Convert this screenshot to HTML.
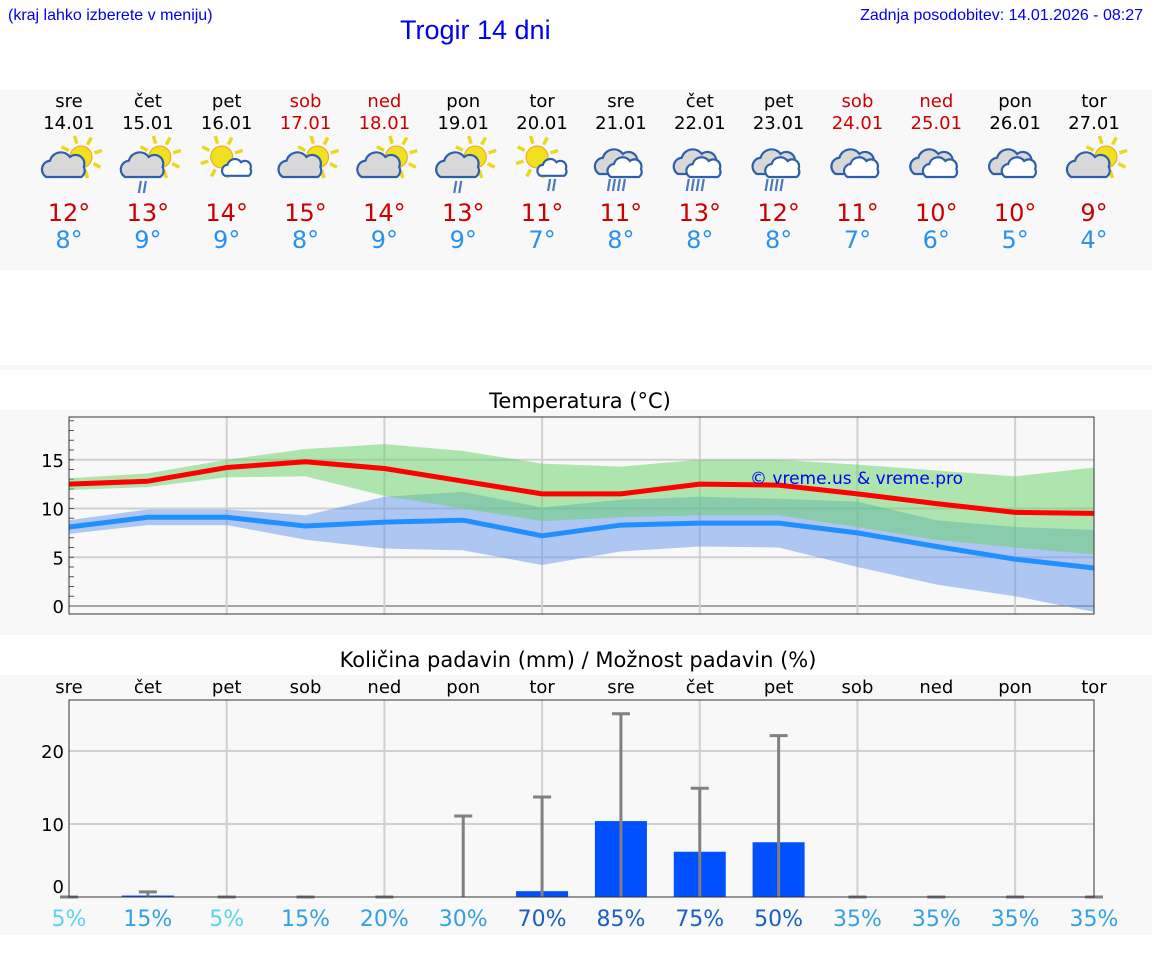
<!DOCTYPE html>
<html><head><meta charset="utf-8"><style>
body{margin:0;width:1152px;height:975px;background:#fff;font-family:"Liberation Sans","DejaVu Sans",sans-serif;position:relative;overflow:hidden}
.abs{position:absolute}
svg text{font-family:"DejaVu Sans","Liberation Sans",sans-serif}
</style></head><body>
<svg id="svg" class="abs" style="left:0;top:0" width="1152" height="975"></svg>
<div class="abs" style="left:8px;top:7px;font-size:16px;color:#0000ee">(kraj lahko izberete v meniju)</div>
<div class="abs" style="left:400px;top:15px;font-size:27px;color:#0000ee">Trogir 14 dni</div>
<div class="abs" style="right:9px;top:7px;font-size:16px;color:#0000ee">Zadnja posodobitev: 14.01.2026 - 08:27</div>
<script>
const days=["sre","čet","pet","sob","ned","pon","tor","sre","čet","pet","sob","ned","pon","tor"];
const dates=["14.01","15.01","16.01","17.01","18.01","19.01","20.01","21.01","22.01","23.01","24.01","25.01","26.01","27.01"];
const weekend=[0,0,0,1,1,0,0,0,0,0,1,1,0,0];
const icons=[0,1,2,0,0,1,3,4,4,4,5,5,5,0];
const tMaxLabel=[12,13,14,15,14,13,11,11,13,12,11,10,10,9];
const tMinLabel=[8,9,9,8,9,9,7,8,8,8,7,6,5,4];
const maxLine=[12.5,12.8,14.2,14.8,14.1,12.8,11.5,11.5,12.5,12.4,11.5,10.5,9.6,9.5];
const maxHi=[13.1,13.6,15.0,16.1,16.6,15.9,14.6,14.3,15.0,15.0,14.5,13.9,13.3,14.2];
const maxLo=[11.9,12.2,13.2,13.3,11.3,10.0,8.7,9.1,9.3,9.3,8.1,6.8,6.0,5.3];
const minLine=[8.1,9.1,9.1,8.2,8.6,8.8,7.2,8.3,8.5,8.5,7.5,6.1,4.8,3.9];
const minHi=[8.8,9.9,9.9,9.3,11.2,11.7,10.1,10.9,11.2,11.0,10.7,8.8,8.1,7.8];
const minLo=[7.4,8.3,8.3,6.8,5.9,5.7,4.2,5.6,6.1,6.0,4.0,2.2,1.0,-0.6];
const tempTicks=[0,5,10,15];
const precip=[0,0.2,0,0,0,0,0.8,10.4,6.2,7.5,0,0,0,0];
const precipMax=[0,0.7,0,0,0,11.1,13.7,25.1,14.9,22.1,0,0,0,0];
const chance=[5,15,5,15,20,30,70,85,75,50,35,35,35,35];
const precipTicks=[0,10,20];

const S=document.getElementById('svg');const NS='http://www.w3.org/2000/svg';
function el(t,a,p){const e=document.createElementNS(NS,t);for(const k in a)e.setAttribute(k,a[k]);(p||S).appendChild(e);return e;}
function tx(x,y,s,a,p){const e=el('text',Object.assign({x:x,y:y},a),p);e.textContent=s;return e;}
const X0=69,X1=1094,DX=(X1-X0)/13;
const dx=i=>X0+i*DX;
const ty=v=>606-v*9.75;
const py=v=>897-v*7.3;

let r;
r=el('rect',{x:0,y:90,width:1152,height:180,fill:'#f8f8f8'});
el('rect',{x:0,y:365,width:1152,height:5,fill:'#f8f8f8'});
r=el('rect',{x:0,y:410,width:1152,height:225,fill:'#f8f8f8'});
r=el('rect',{x:0,y:675,width:1152,height:260,fill:'#f8f8f8'});

function icon(g,cx,type){
  const sun=(sx,sy,rr)=>{for(let k=0;k<8;k++){const a=k*Math.PI/4-0.3;el('line',{x1:sx+Math.cos(a)*(rr+3),y1:sy+Math.sin(a)*(rr+3),x2:sx+Math.cos(a)*(rr+11),y2:sy+Math.sin(a)*(rr+11),stroke:'#e8d820','stroke-width':3.5},g);}el('circle',{cx:sx,cy:sy,r:rr,fill:'#f0e020',stroke:'#f0a020','stroke-width':1},g);};
  const cloud=(x,y,s,fill)=>{const p=`M${x-15},${y+8} a7 7 0 0 1 3,-13 a9 9 0 0 1 16,-3 a7 7 0 0 1 11,8 a6 6 0 0 1 -2,8 z`;el('path',{d:p,fill:fill,stroke:'#2e5fa8','stroke-width':2.2/s,transform:`translate(${x},${y}) scale(${s}) translate(${-x},${-y})`},g);};
  const rain=(x,y,n)=>{for(let k=0;k<n;k++)el('line',{x1:x+k*5,y1:y,x2:x-2+k*5,y2:y+12,stroke:'#4a78b8','stroke-width':2.2},g);};
  if(type===0||type===1){sun(cx+12,157,11);cloud(cx-4,167,1.25,'#d8d8d8');if(type===1)rain(cx-7,181,2);}
  if(type===2||type===3){sun(cx-5,157,11);cloud(cx+11,169,0.85,'#fff');if(type===3)rain(cx+8,179,2);}
  if(type===4||type===5){cloud(cx-3,164,1.25,'#d8d8d8');cloud(cx+5,169,1.0,'#fff');if(type===4)rain(cx-11,179,4);}
}
for(let i=0;i<14;i++){
  const c=weekend[i]?'#cc0000':'#000';
  const g=el('g',{});
  tx(dx(i),107,days[i],{'text-anchor':'middle','font-size':18,fill:c},g);
  tx(dx(i),129,dates[i],{'text-anchor':'middle','font-size':18,fill:c},g);
  icon(g,dx(i),icons[i]);
  tx(dx(i),221,tMaxLabel[i]+'°',{'text-anchor':'middle','font-size':24,fill:'#cc0000'},g);
  tx(dx(i),248,tMinLabel[i]+'°',{'text-anchor':'middle','font-size':24,fill:'#2a90f0'},g);
}

tx(580,408,'Temperatura (°C)',{'text-anchor':'middle','font-size':21,fill:'#000'});
const TY0=417,TY1=614;
el('rect',{x:X0,y:TY0,width:X1-X0,height:TY1-TY0,fill:'#f8f8f8'});
for(const v of tempTicks){el('line',{x1:X0,x2:X1,y1:ty(v),y2:ty(v),stroke:v===0?'#555':'#d0d0d0','stroke-width':v===0?1:2});
  tx(64,ty(v)+7,String(v),{'text-anchor':'end','font-size':18,fill:'#000'});}
for(let v=0;v<=19;v++)el('line',{x1:X0,x2:X0+5,y1:ty(v),y2:ty(v),stroke:'#555'});
for(let i=2;i<14;i+=2)el('line',{x1:dx(i),x2:dx(i),y1:TY0,y2:TY1,stroke:'#d0d0d0','stroke-width':2});
function band(hi,lo,fill,name){let d='M';hi.forEach((v,i)=>d+=dx(i)+','+ty(v)+' L');for(let i=13;i>=0;i--)d+=dx(i)+','+ty(lo[i])+(i?' L':' Z');const p=el('path',{d:d,fill:fill});}
band(minHi,minLo,'rgba(100,150,235,0.5)','min-temp-range');
band(maxHi,maxLo,'rgba(100,210,100,0.5)','max-temp-range');
function line(vals,col,name){const p=el('polyline',{points:vals.map((v,i)=>dx(i)+','+ty(v)).join(' '),fill:'none',stroke:col,'stroke-width':5,'stroke-linejoin':'round'});}
line(maxLine,'#ff0000','max-temp-line');line(minLine,'#2090ff','min-temp-line');
el('rect',{x:X0,y:TY0,width:X1-X0,height:TY1-TY0,fill:'none',stroke:'#333'});
tx(750,484,'© vreme.us & vreme.pro',{'font-size':17,fill:'#0000ee'});

tx(578,667,'Količina padavin (mm) / Možnost padavin (%)',{'text-anchor':'middle','font-size':21,fill:'#000'});
const PY0=700,PY1=897;
el('rect',{x:X0,y:PY0,width:X1-X0,height:PY1-PY0,fill:'#f8f8f8'});
for(const v of precipTicks){if(v>0)el('line',{x1:X0,x2:X1,y1:py(v),y2:py(v),stroke:'#d0d0d0','stroke-width':2});
  tx(64,py(v)+(v?7:-4),String(v),{'text-anchor':'end','font-size':18,fill:'#000'});}
for(let i=2;i<14;i+=2)el('line',{x1:dx(i),x2:dx(i),y1:PY0,y2:PY1,stroke:'#d0d0d0','stroke-width':2});
for(let i=0;i<14;i++){
  tx(dx(i),693,days[i],{'text-anchor':'middle','font-size':18,fill:'#000'});
  if(precip[i]>0){const b=el('rect',{x:dx(i)-26,y:py(precip[i]),width:52,height:PY1-py(precip[i]),fill:'#0050ff'});}
  const g=el('g',{});
  el('line',{x1:dx(i),x2:dx(i),y1:PY1,y2:py(precipMax[i]),stroke:'#808080','stroke-width':3},g);
  el('line',{x1:dx(i)-9,x2:dx(i)+9,y1:py(precipMax[i]),y2:py(precipMax[i]),stroke:'#808080','stroke-width':3},g);
  const c=chance[i]<10?'#5ad6ea':chance[i]<50?'#35a0e0':'#1a60c0';
  const t=tx(dx(i),926,chance[i]+'%',{'text-anchor':'middle','font-size':22,fill:c});
}
el('rect',{x:X0,y:PY0,width:X1-X0,height:PY1-PY0,fill:'none',stroke:'#333'});
</script>
</body></html>
